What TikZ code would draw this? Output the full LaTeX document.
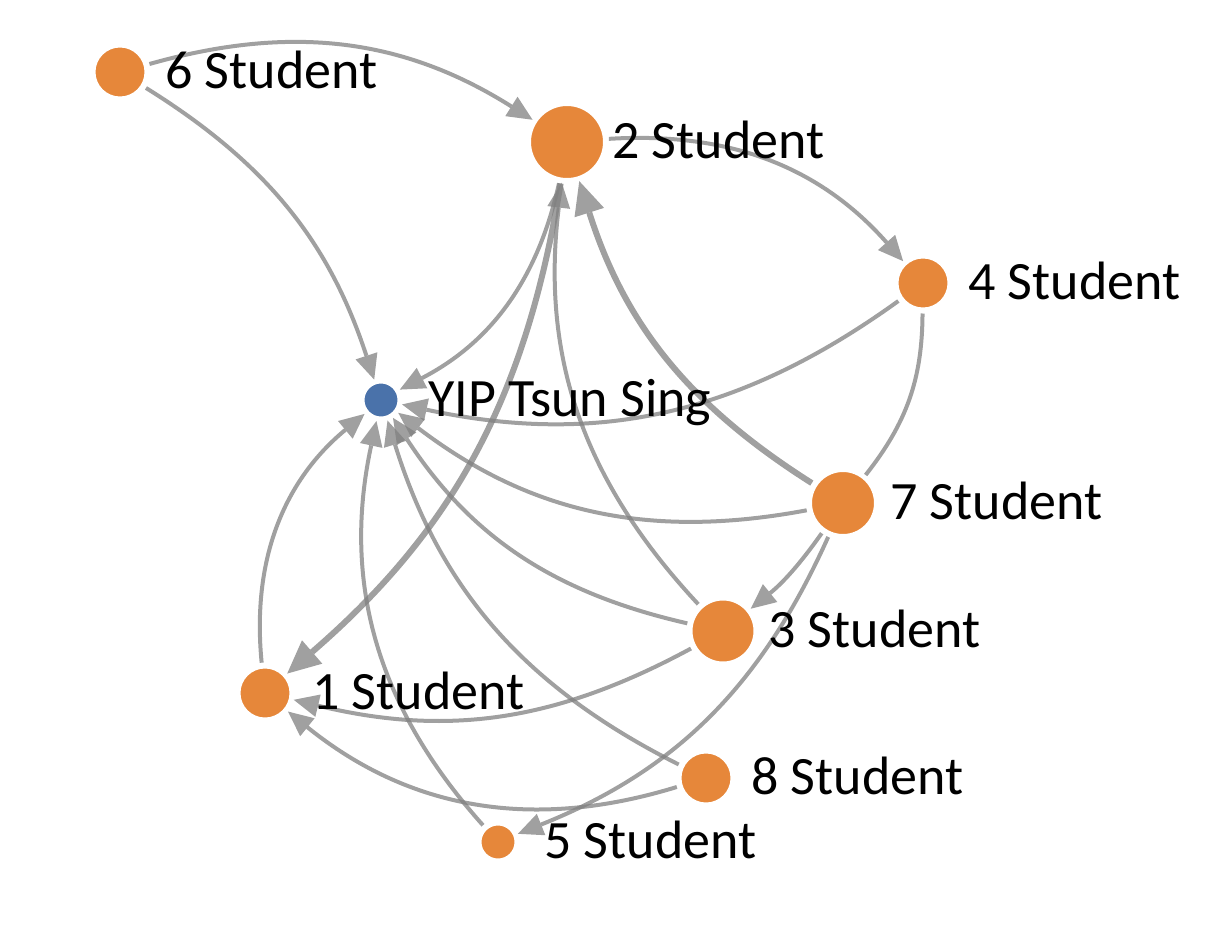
\documentclass[tikz,border=0pt]{standalone}
\usepackage{fontspec}
\setmainfont{Carlito}
\usetikzlibrary{positioning,arrows.meta}
\definecolor{studorange}{RGB}{230,135,58}
\definecolor{tutorblue}{RGB}{74,114,170}
\definecolor{edgegray}{RGB}{128,128,128}
\pgfdeclarelayer{background}
\pgfsetlayers{background,main}

\begin{document}
\begin{tikzpicture}[x=1pt, y=1pt,
    student/.style={circle, fill=studorange, draw=white, line width=2pt, inner sep=0pt},
    tutor/.style={circle, fill=tutorblue, draw=white, line width=2pt, inner sep=0pt, minimum size=35pt},
    lbl/.style={font=\fontsize{54}{62}\selectfont, inner sep=0pt, text height=33pt, text depth=0pt},
    lnk/.style={draw=edgegray, opacity=0.75, line width=4pt, -{Triangle[length=25pt, width=23pt, line width=0pt]}, shorten >=3pt, shorten <=4pt},
    lnkbig/.style={lnk, line width=6pt, -{Triangle[length=33pt, width=31pt, line width=0pt]}}
]
\useasboundingbox (0,0) rectangle (1227,-943);

% Tutor and students
\node[tutor] (yip) at (381,-400) {};
\node[student, minimum size=51pt] (s6) at (120,-72) {};
\node[student, minimum size=74pt] (s2) at (567,-142) {};
\node[student, minimum size=51pt] (s4) at (923,-283) {};
\node[student, minimum size=64pt] (s7) at (843,-503) {};
\node[student, minimum size=63pt] (s3) at (723,-631) {};
\node[student, minimum size=51pt] (s1) at (265,-693) {};
\node[student, minimum size=51pt] (s8) at (706,-778) {};
\node[student, minimum size=35pt] (s5) at (498,-842) {};

% Names
\node[lbl, right=47pt of yip.center] {YIP Tsun Sing};
\node[lbl, right=45pt of s6.center] {6 Student};
\node[lbl, right=45pt of s2.center] {2 Student};
\node[lbl, right=45pt of s4.center] {4 Student};
\node[lbl, right=47pt of s7.center] {7 Student};
\node[lbl, right=45pt of s3.center] {3 Student};
\node[lbl, right=47pt of s1.center] {1 Student};
\node[lbl, right=45pt of s8.center] {8 Student};
\node[lbl, right=46pt of s5.center] {5 Student};

% Links
\begin{pgfonlayer}{background}
\draw[lnk] (s6) to[bend left=24] (s2);
\draw[lnk] (s6) to[bend left=20] (yip);
\draw[lnk] (s2) to[bend left=26] (s4);
\draw[lnk] (s2) to[bend left=25] (yip);
\draw[lnkbig] (s2) to[bend left=20] (s1);
\draw[lnk] (s4) to[bend left=24] (yip);
\draw[lnk, -] (s4) to[bend left=19] (s7);
\draw[lnkbig] (s7) to[bend left=20] (s2);
\draw[lnk] (s7) to[bend left=24] (yip);
\draw[lnk] (s7) to[bend left=8] (s3);
\draw[lnk] (s7) to[bend left=22] (s5);
\draw[lnk] (s3) to[bend left=25] (s2);
\draw[lnk] (s3) to[bend left=22] (yip);
\draw[lnk] (s3) to[bend left=21] (s1);
\draw[lnk] (s1) to[bend left=28] (yip);
\draw[lnk] (s8) to[bend left=23] (yip);
\draw[lnk] (s8) to[bend left=28] (s1);
\draw[lnk] (s5) to[bend left=27] (yip);
\end{pgfonlayer}

\end{tikzpicture}
\end{document}
